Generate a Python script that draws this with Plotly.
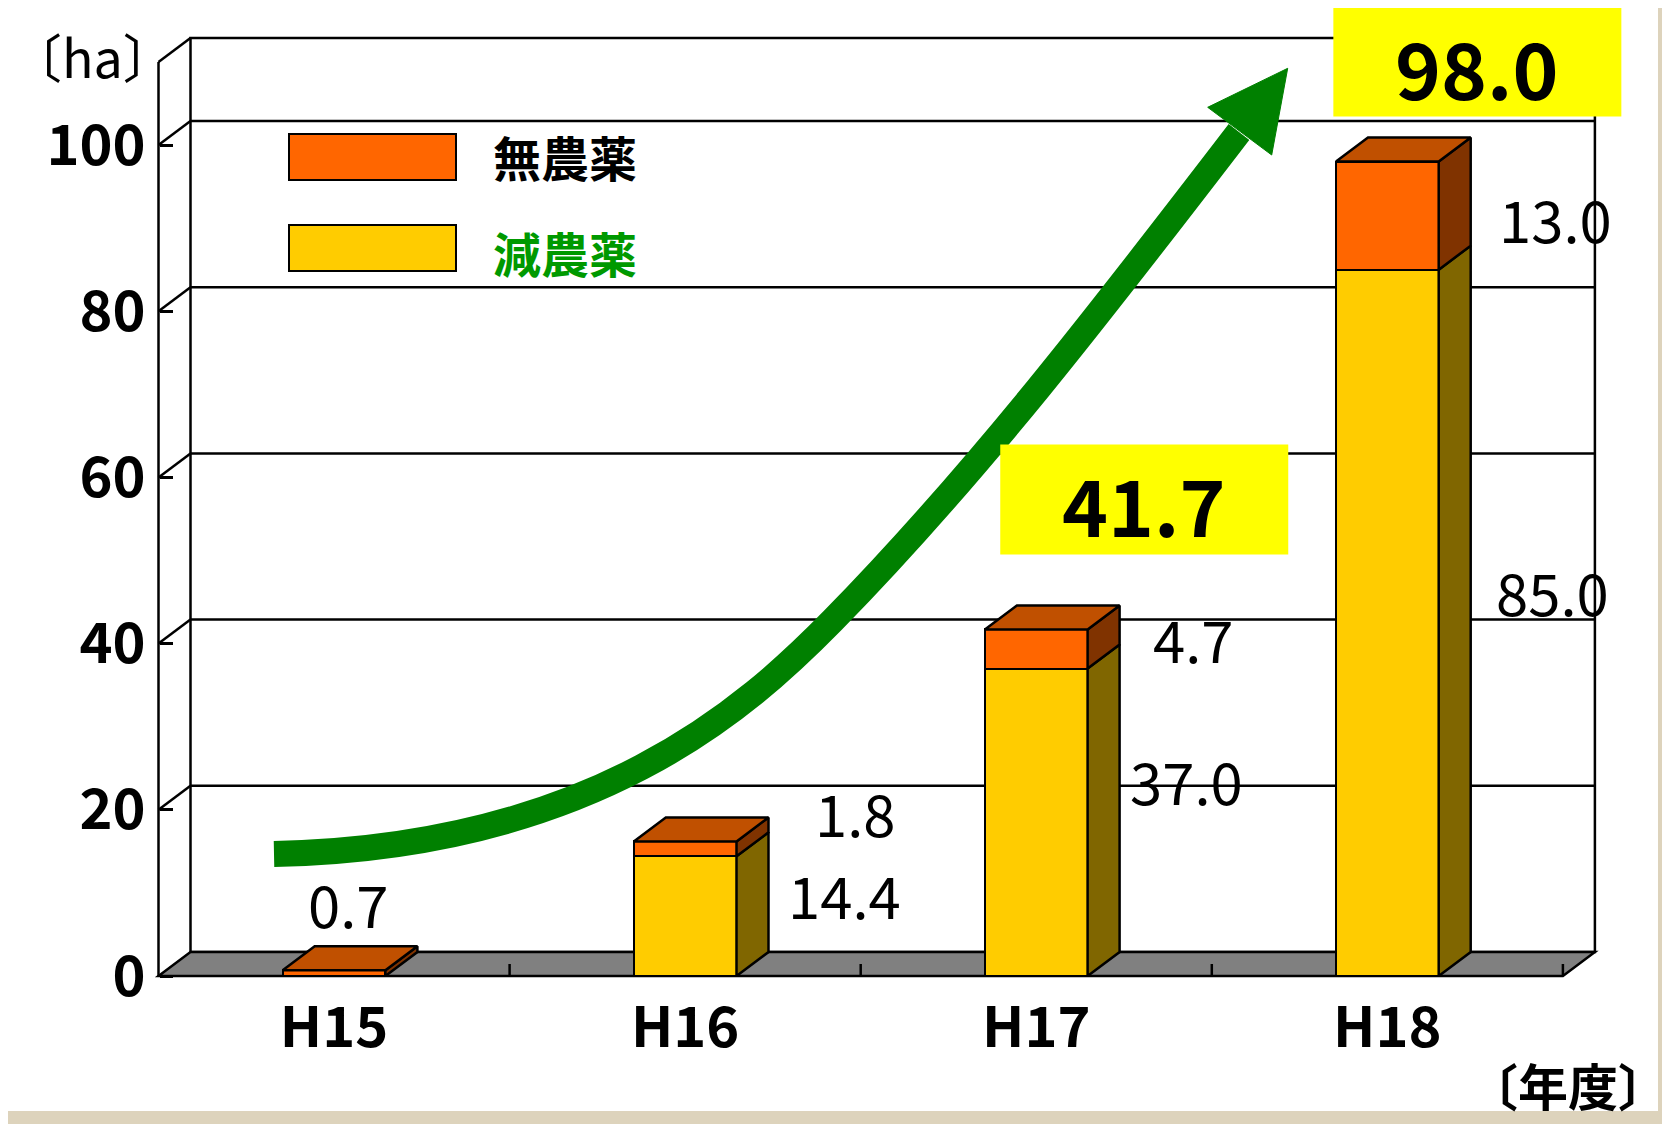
import plotly.graph_objects as go

# ---------------- data ----------------
categories = ["H15", "H16", "H17", "H18"]
reduced = [0.0, 14.4, 37.0, 85.0]     # 減農薬 (lower segment)
organic = [0.7, 1.8, 4.7, 13.0]       # 無農薬 (upper segment)
y_ticks = [0, 20, 40, 60, 80, 100]
y_top = 110
highlight = ["H17", "H18"]            # categories with a highlighted total

# ---------------- geometry / style ----------------
OFF = 8                    # page body margin
W, H = 1670 - OFF, 1124 - OFF
X0p, PX = 158.5, 351.1     # page x of category -0.5, pixels per category
Y0p, PY = 976.0, 8.31      # page y of value 0, pixels per unit
X0, Y0 = X0p - OFF, Y0p - OFF
DXU = 32 / PX              # 3-D depth, x
DYU = 24 / PY              # 3-D depth, y
BW = 0.2925
FONT = "Noto Sans CJK JP"
LW = 2.5

C_RED_FRONT, C_RED_SIDE = "#FFCC00", "#806600"
C_ORG_FRONT, C_ORG_SIDE, C_ORG_TOP = "#FF6600", "#803300", "#C05000"


def pxp(X):   # page px -> paper x
    return (X - OFF) / W


def pyp(Y):   # page px -> paper y
    return 1 - (Y - OFF) / H


def to_data(X, Y):   # page px -> data coordinates
    return (X - X0p) / PX - 0.5, (Y0p - Y) / PY


xs = list(range(len(categories)))
totals = [round(a + b, 1) for a, b in zip(reduced, organic)]

fig = go.Figure()

# front faces (real bars)
fig.add_bar(x=xs, y=reduced, width=BW, name="減農薬",
            marker=dict(color=C_RED_FRONT, line=dict(color="black", width=LW)),
            hoverinfo="skip")
fig.add_bar(x=xs, y=organic, width=BW, name="無農薬",
            marker=dict(color=C_ORG_FRONT, line=dict(color="black", width=LW)),
            hoverinfo="skip")


def poly(px, py, color):
    fig.add_trace(go.Scatter(x=px + [px[0]], y=py + [py[0]], mode="lines",
                             fill="toself", fillcolor=color,
                             line=dict(color="black", width=LW),
                             hoverinfo="skip", showlegend=False))


# 3-D side and top faces derived from the same data
for i, (r, o) in enumerate(zip(reduced, organic)):
    xr_ = i + BW / 2
    for b, t, col in [(0, r, C_RED_SIDE), (r, r + o, C_ORG_SIDE)]:
        if t - b <= 0:
            continue
        poly([xr_, xr_ + DXU, xr_ + DXU, xr_], [b, b + DYU, t + DYU, t], col)
    T = r + o
    xl_ = i - BW / 2
    poly([xl_, xl_ + DXU, xr_ + DXU, xr_], [T, T + DYU, T + DYU, T], C_ORG_TOP)

shapes = []
# white page with textured border on right / bottom
shapes.append(dict(type="rect", xref="paper", yref="paper", x0=-0.01, x1=pxp(1658),
                   y0=pyp(1111), y1=1.01, fillcolor="white", line=dict(width=0),
                   layer="below"))
# back wall
xl, xrr = -0.5, len(categories) - 0.5
shapes.append(dict(type="rect", xref="x", yref="y", x0=xl + DXU, x1=xrr + DXU,
                   y0=DYU, y1=y_top + DYU, fillcolor="white",
                   line=dict(color="black", width=LW), layer="below"))
for v in y_ticks[1:]:
    shapes.append(dict(type="line", xref="x", yref="y", x0=xl + DXU, x1=xrr + DXU,
                       y0=v + DYU, y1=v + DYU, line=dict(color="black", width=LW),
                       layer="below"))
for v in y_ticks[1:] + [y_top]:
    shapes.append(dict(type="line", xref="x", yref="y", x0=xl, x1=xl + DXU,
                       y0=v, y1=v + DYU, line=dict(color="black", width=LW),
                       layer="below"))
# floor
shapes.append(dict(type="path", xref="x", yref="y",
                   path=f"M {xl},0 L {xrr},0 L {xrr + DXU},{DYU} L {xl + DXU},{DYU} Z",
                   fillcolor="#808080", line=dict(color="black", width=LW),
                   layer="below"))
# front axis line
shapes.append(dict(type="line", xref="x", yref="y", x0=xl, x1=xl, y0=0, y1=y_top,
                   line=dict(color="black", width=LW), layer="below"))
# category boundary ticks on the floor
for k in range(1, len(categories) + 1):
    xb = xl + k
    shapes.append(dict(type="line", xref="x", yref="y", x0=xb, x1=xb, y0=0,
                       y1=12 / PY, line=dict(color="black", width=LW), layer="below"))

# growth arrow (decoration): two cubic Bezier segments, control points in page px
arrow_bezier_px = [
    [(274, 854), (594, 847.6), (748.5, 706.4), (832.5, 620.7)],
    [(832.5, 620.7), (980.9, 469.3), (1109.9, 300.1), (1239, 132)],
]
arrow_head_px = [(1287.7, 68.3), (1207.7, 107.3), (1271.7, 155.0)]
seg0 = [to_data(*p) for p in arrow_bezier_px[0]]
path = f"M {seg0[0][0]},{seg0[0][1]}"
for seg in arrow_bezier_px:
    c = [to_data(*p) for p in seg]
    path += f" C {c[1][0]},{c[1][1]} {c[2][0]},{c[2][1]} {c[3][0]},{c[3][1]}"
shapes.append(dict(type="path", xref="x", yref="y", path=path,
                   line=dict(color="#008000", width=26), fillcolor="rgba(0,0,0,0)",
                   layer="above"))
hd = [to_data(*p) for p in arrow_head_px]
hp = "M " + " L ".join(f"{a},{b}" for a, b in hd) + " Z"
shapes.append(dict(type="path", xref="x", yref="y", path=hp, fillcolor="#008000",
                   line=dict(color="#008000", width=1), layer="above"))

# highlighted-total boxes (pixel-sized, anchored at the total value)
box_center = {"H17": (108, 130), "H18": (90, 100)}
BOX_W, BOX_H = 288, 110
for i, c in enumerate(categories):
    if c in highlight:
        cx, cy = box_center[c]
        shapes.append(dict(type="rect", xref="x", yref="y",
                           xsizemode="pixel", ysizemode="pixel",
                           xanchor=i, yanchor=totals[i],
                           x0=cx - BOX_W / 2, x1=cx + BOX_W / 2,
                           y0=cy - BOX_H / 2, y1=cy + BOX_H / 2,
                           fillcolor="#FFFF00", line=dict(width=0), layer="above"))

# legend swatches
for (y0p, y1p, col) in [(134, 180, C_ORG_FRONT), (225, 271, C_RED_FRONT)]:
    shapes.append(dict(type="rect", xref="paper", yref="paper", x0=pxp(289), x1=pxp(456),
                       y0=pyp(y1p), y1=pyp(y0p), fillcolor=col,
                       line=dict(color="black", width=2)))

annotations = []
# value labels  (pixel nudges from segment middle)
lab_shift_red = [(0, 0), (159, 22), (150, 42), (165, 32)]
lab_shift_org = [(14, 70), (170, 37), (157, 11), (168, -2)]
for i in xs:
    if reduced[i] > 0:
        annotations.append(dict(x=i, y=reduced[i] / 2, xref="x", yref="y",
                                text=f"{reduced[i]:.1f}", showarrow=False,
                                xshift=lab_shift_red[i][0], yshift=lab_shift_red[i][1],
                                font=dict(size=58, color="black", family=FONT)))
    annotations.append(dict(x=i, y=reduced[i] + organic[i] / 2, xref="x", yref="y",
                            text=f"{organic[i]:.1f}", showarrow=False,
                            xshift=lab_shift_org[i][0], yshift=lab_shift_org[i][1],
                            font=dict(size=58, color="black", family=FONT)))
# highlighted totals text
for i, c in enumerate(categories):
    if c in highlight:
        cx, cy = box_center[c]
        annotations.append(dict(x=i, y=totals[i], xref="x", yref="y",
                                text=f"<b>{totals[i]:.1f}</b>", showarrow=False,
                                xshift=cx - 1, yshift=cy - 4,
                                font=dict(size=78, color="black", family=FONT)))
# legend text
annotations.append(dict(x=pxp(491), y=pyp(156), xref="paper", yref="paper",
                        xanchor="left", yanchor="middle", showarrow=False,
                        text="<b>無農薬</b>",
                        font=dict(size=48, color="black", family=FONT)))
annotations.append(dict(x=pxp(491), y=pyp(252), xref="paper", yref="paper",
                        xanchor="left", yanchor="middle", showarrow=False,
                        text="<b>減農薬</b>",
                        font=dict(size=48, color="#009900", family=FONT)))
# unit labels
annotations.append(dict(x=0.0, y=pyp(55), xref="paper", yref="paper",
                        xanchor="left", yanchor="middle", showarrow=False,
                        text="〔ha〕", font=dict(size=52, color="black", family=FONT)))
annotations.append(dict(x=1.0, y=pyp(1084), xref="paper", yref="paper",
                        xanchor="right", yanchor="middle", showarrow=False,
                        text="<b>〔年度〕</b>",
                        font=dict(size=50, color="black", family=FONT)))

fig.update_layout(
    width=W, height=H, margin=dict(l=0, r=0, t=0, b=0),
    paper_bgcolor="#DDD3BC", plot_bgcolor="rgba(0,0,0,0)",
    barmode="stack", showlegend=False, bargap=0,
    shapes=shapes, annotations=annotations,
    xaxis=dict(domain=[0, 1], range=[-0.5 - X0 / PX, -0.5 + (W - X0) / PX],
               anchor="free", position=(H - Y0) / H,
               tickmode="array", tickvals=xs,
               ticktext=[f"<b>{c}</b>" for c in categories],
               showgrid=False, zeroline=False, showline=False, ticks="",
               ticklabelstandoff=14,
               tickfont=dict(size=56, color="black", family=FONT)),
    yaxis=dict(domain=[0, 1], range=[-(H - Y0) / PY, Y0 / PY],
               anchor="free", position=X0 / W,
               tickmode="array", tickvals=y_ticks,
               ticktext=[f"<b>{v}</b>" for v in y_ticks],
               showgrid=False, zeroline=False, showline=False,
               ticks="inside", ticklen=13, tickwidth=LW, tickcolor="black",
               ticklabelstandoff=13,
               tickfont=dict(size=56, color="black", family=FONT)),
)

fig.write_html("out.html")
